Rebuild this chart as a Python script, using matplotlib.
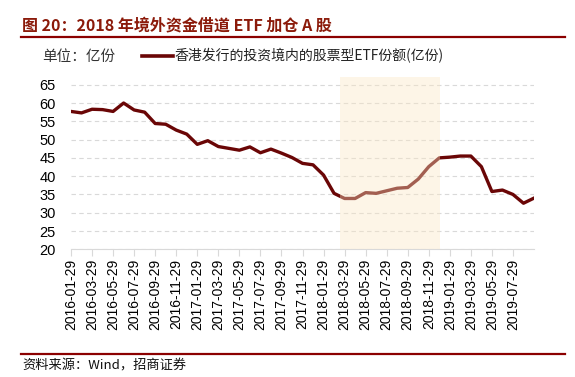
import matplotlib
matplotlib.use("Agg")
import matplotlib.pyplot as plt
from matplotlib.lines import Line2D

# monthly series, 2016-01 .. 2019-09
months = [f"{y}-{m:02d}-29" for y in range(2016, 2020) for m in range(1, 13)][:45]
shares = [57.7, 57.3, 58.3, 58.2, 57.7, 60.0, 58.1, 57.5, 54.4, 54.2,
          52.6, 51.5, 48.7, 49.7, 48.1, 47.6, 47.1, 48.0, 46.4, 47.4,
          46.3, 45.1, 43.5, 43.1, 40.3, 35.3, 33.9, 33.9, 35.5, 35.3,
          36.0, 36.7, 36.9, 39.2, 42.6, 45.0, 45.2, 45.5, 45.5, 42.6,
          35.8, 36.2, 35.0, 32.6, 34.0]
tick_labels = months[:43:2]   # 2016-01-29 .. 2019-07-29
yticks = [20, 25, 30, 35, 40, 45, 50, 55, 60, 65]

title = "图 20：2018 年境外资金借道 ETF 加仓 A 股"
unit = "单位：亿份"
series_name = "香港发行的投资境内的股票型ETF份额(亿份)"
source = "资料来源：Wind，招商证券"

plt.rcParams['font.family'] = ['Liberation Sans', 'Noto Sans CJK SC']
cjk = ['Noto Sans CJK SC', 'Liberation Sans']

W, H = 575, 377
fig = plt.figure(figsize=(W / 100, H / 100), dpi=100)
ax = fig.add_axes([71 / W, 1 - 249.3 / H, (534 - 71) / W, (249.3 - 76.7) / H])

x = list(range(len(shares)))
ax.plot(x, shares, color='#6A0606', lw=2.4, zorder=2, solid_joinstyle='round')
# highlight band drawn over the line
ax.axvspan(25.6, 35.1, color='#FAE6C3', alpha=0.4, lw=0, zorder=3)

ax.set_xlim(0, len(shares) - 1)
ax.set_ylim(20, 67.2)
ax.set_yticks(yticks)
ax.set_xticks(x[:43:2])
ax.set_xticklabels(tick_labels, rotation=90, fontsize=10)
ax.tick_params(axis='y', length=0, labelsize=10.5, pad=11)
ax.tick_params(axis='x', length=5, color='#D9D9D9', labelsize=10, pad=2)
ax.grid(axis='y', color='#D9D9D9', ls=(0, (4, 3)), lw=0.8)
ax.set_axisbelow(True)
for s in ['top', 'right', 'left']:
    ax.spines[s].set_visible(False)
ax.spines['bottom'].set_color('#D9D9D9')

# header, legend, footer
fig.text(22 / W, 1 - 25 / H, title, family=cjk, fontsize=11.5, fontweight='bold',
         color='#8B1A0A', va='center')
fig.add_artist(Line2D([21 / W, 565 / W], [1 - 37 / H] * 2, color='#8B0000', lw=1.6))
fig.text(42 / W, 1 - 57 / H, unit, family=cjk, fontsize=10.5, color='#333333', va='center')
fig.add_artist(Line2D([142 / W, 173 / W], [1 - 56 / H] * 2, color='#6A0606', lw=2.6))
fig.text(174 / W, 1 - 56 / H, series_name, family=cjk, fontsize=10, color='#222222', va='center')
fig.add_artist(Line2D([21 / W, 565 / W], [1 - 354 / H] * 2, color='#8B0000', lw=1.6))
fig.text(22 / W, 1 - 366 / H, source, family=cjk, fontsize=9.5, color='#111111', va='center')

fig.savefig("out.png", dpi=100)
